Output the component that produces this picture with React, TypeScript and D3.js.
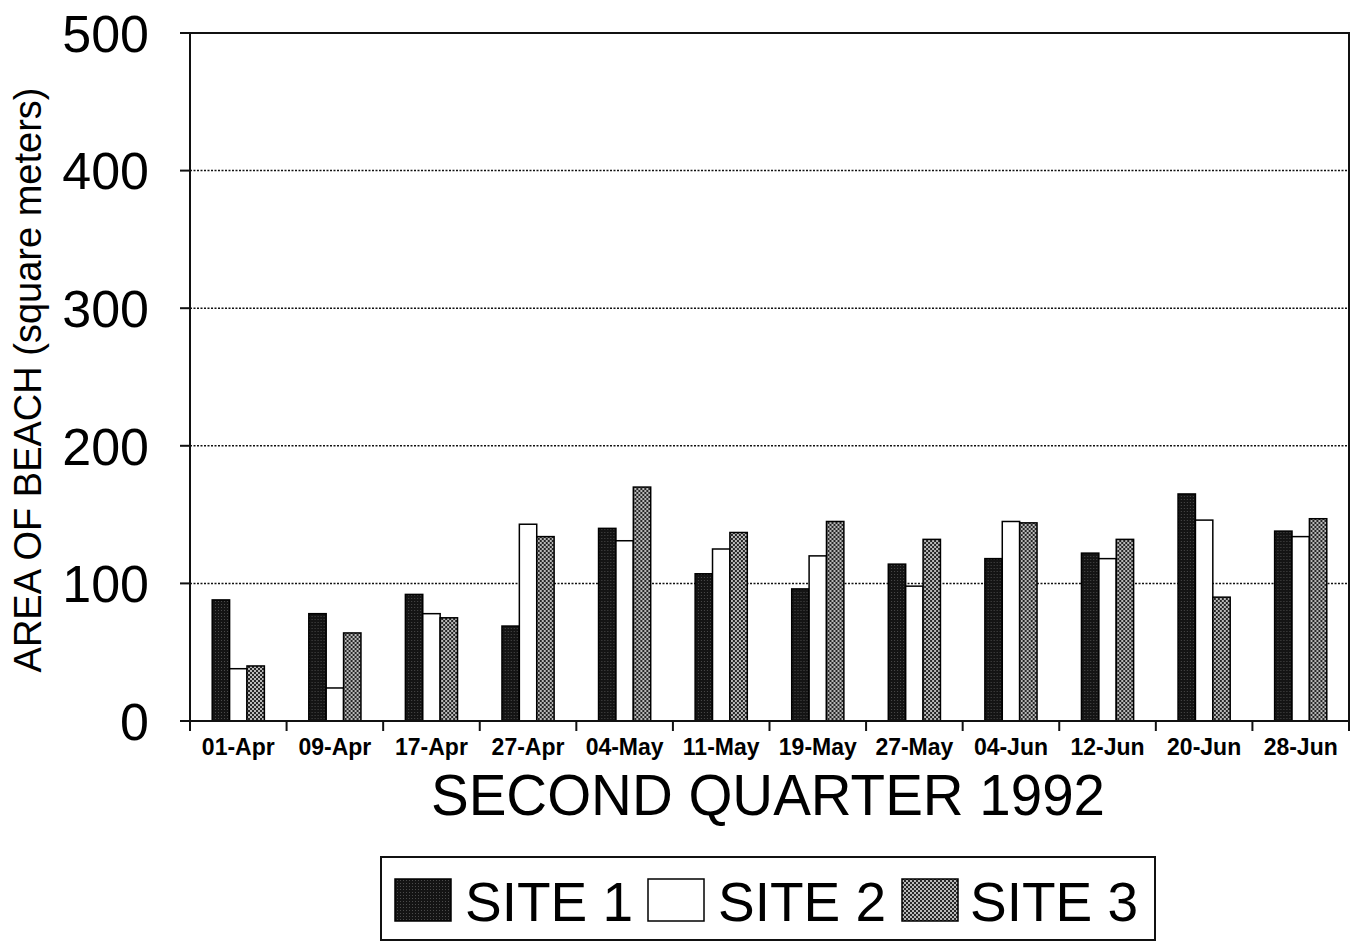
import React from "react";
import * as d3 from "d3";

const categories = ["01-Apr", "09-Apr", "17-Apr", "27-Apr", "04-May", "11-May", "19-May", "27-May", "04-Jun", "12-Jun", "20-Jun", "28-Jun"];
const site1 = [88, 78, 92, 69, 140, 107, 96, 114, 118, 122, 165, 138];
const site2 = [38, 24, 78, 143, 131, 125, 120, 98, 145, 118, 146, 134];
const site3 = [40, 64, 75, 134, 170, 137, 145, 132, 144, 132, 90, 147];
const seriesNames = ["SITE 1", "SITE 2", "SITE 3"];
const yTicks = [0, 100, 200, 300, 400, 500];
const gridTicks = [100, 200, 300, 400];

const W = 1352;
const H = 943;
const left = 190;
const right = 1349;
const top = 33;
const bottom = 721;

const FONT = "Arial, 'Liberation Sans', Helvetica, sans-serif";

export default function App() {
  const series = [site1, site2, site3];
  const fills = ["url(#pat1)", "#ffffff", "url(#pat3)"];
  const x = d3.scaleBand<string>().domain(categories).range([left, right]).padding(0);
  const bw = x.bandwidth();
  const groupW = bw * 0.54;
  const off = (bw - groupW) / 2;
  const xs = d3.scaleBand<string>().domain(seriesNames).range([off, off + groupW]).padding(0);
  const y = d3.scaleLinear().domain([0, 500]).range([bottom, top]);
  const tickXs = categories.map((c) => x(c) as number).concat([right]);

  const legendItems = [
    { name: seriesNames[0], fill: fills[0], sx: 395, tx: 465 },
    { name: seriesNames[1], fill: fills[1], sx: 648, tx: 718 },
    { name: seriesNames[2], fill: fills[2], sx: 902, tx: 970 },
  ];

  return (
    <svg width={W} height={H} style={{ position: "absolute", left: 0, top: 0, background: "#fff" }} fontFamily={FONT}>
      <defs>
        <pattern id="pat1" width="3" height="3" patternUnits="userSpaceOnUse">
          <rect width="3" height="3" fill="#141414" />
          <rect x="1" y="1" width="1" height="1" fill="#4a4a4a" />
        </pattern>
        <pattern id="pat3" width="4" height="4" patternUnits="userSpaceOnUse">
          <rect width="4" height="4" fill="#b8b8b8" />
          <rect x="0" y="0" width="2" height="2" fill="#262626" />
          <rect x="2" y="2" width="2" height="2" fill="#262626" />
        </pattern>
      </defs>
      <rect width={W} height={H} fill="#fff" />

      {/* gridlines */}
      {gridTicks.map((t) => (
        <line key={t} x1={left} x2={right} y1={y(t)} y2={y(t)} stroke="#111" strokeWidth={1.5} strokeDasharray="2,1.5" />
      ))}

      {/* bars */}
      {categories.map((c, i) => (
        <g key={c} transform={`translate(${x(c)},0)`}>
          {series.map((s, j) => (
            <rect
              key={j}
              x={xs(seriesNames[j])}
              y={y(s[i])}
              width={xs.bandwidth()}
              height={bottom - y(s[i])}
              fill={fills[j]}
              stroke="#000"
              strokeWidth={1.5}
            />
          ))}
        </g>
      ))}

      {/* frame */}
      <rect x={left} y={top} width={right - left} height={bottom - top} fill="none" stroke="#111" strokeWidth={2} />

      {/* y ticks */}
      {yTicks.map((t) => (
        <g key={t}>
          <line x1={left - 10} x2={left} y1={y(t)} y2={y(t)} stroke="#111" strokeWidth={2} />
          <text x={149} y={y(t)} dy="0.36em" textAnchor="end" fontSize={52} fill="#000">
            {t}
          </text>
        </g>
      ))}

      {/* x ticks */}
      {tickXs.map((tx, i) => (
        <line key={i} x1={tx} x2={tx} y1={bottom} y2={bottom + 10} stroke="#111" strokeWidth={2} />
      ))}
      {categories.map((c) => (
        <text key={c} x={(x(c) as number) + bw / 2} y={755} textAnchor="middle" fontSize={23} fontWeight="bold" fill="#000">
          {c}
        </text>
      ))}

      {/* axis titles */}
      <text x={768} y={815} textAnchor="middle" fontSize={56.5} fill="#000">
        SECOND QUARTER 1992
      </text>
      <text transform={`translate(41,380) rotate(-90)`} textAnchor="middle" fontSize={38} fill="#000">
        AREA OF BEACH (square meters)
      </text>

      {/* legend */}
      <rect x={381} y={857} width={774} height={83} fill="#fff" stroke="#111" strokeWidth={2} />
      {legendItems.map((it) => (
        <g key={it.name}>
          <rect x={it.sx} y={879} width={56} height={42} fill={it.fill} stroke="#000" strokeWidth={1.5} />
          <text x={it.tx} y={921} fontSize={55} fill="#000">
            {it.name}
          </text>
        </g>
      ))}
    </svg>
  );
}
